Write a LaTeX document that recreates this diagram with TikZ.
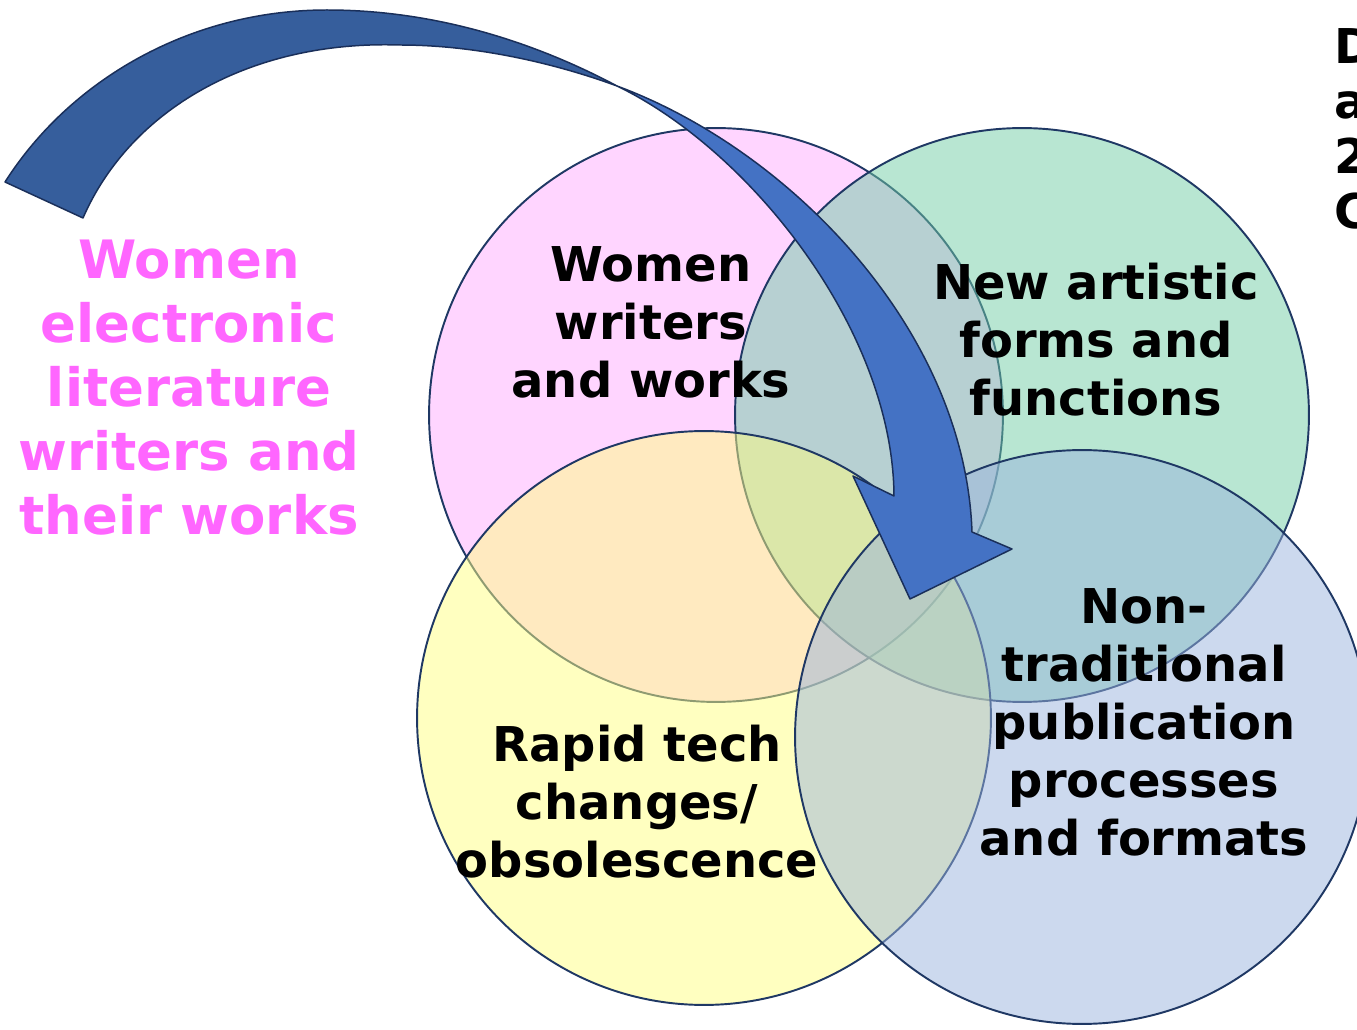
\documentclass[tikz,border=0pt]{standalone}
\usepackage{fontspec}
\setmainfont{DejaVu Sans}
\usepackage{xcolor}

\definecolor{pinkset}{HTML}{FFABFF}
\definecolor{greenset}{HTML}{71CDA5}
\definecolor{yellowset}{HTML}{FFFF81}
\definecolor{blueset}{HTML}{99B3DD}
\definecolor{setline}{HTML}{1F3864}
\definecolor{arrowback}{HTML}{365E9C}
\definecolor{arrowfront}{HTML}{4472C4}
\definecolor{arrowline}{HTML}{1A2F5A}
\definecolor{pinktext}{HTML}{FF66FF}

\begin{document}
\begin{tikzpicture}[x=0.02cm,y=-0.02cm,
  venn/.style={draw=setline, line width=1.1pt, fill opacity=0.5},
  blockarrow/.style={draw=arrowline, line width=0.85pt, line join=round},
  setlabel/.style={inner sep=0pt, align=center, font=\bfseries\fontsize{27.3}{33}\selectfont},
  sidelabel/.style={inner sep=0pt, align=center, text=pinktext, font=\bfseries\fontsize{30.1}{36.4}\selectfont}]
  \useasboundingbox (0,0) rectangle (1357,1030);

  % Four overlapping sets
  \filldraw[venn, fill=pinkset] (716,415) circle[radius=5.74cm];
  \filldraw[venn, fill=greenset] (1022,415) circle[radius=5.74cm];
  \filldraw[venn, fill=yellowset] (704,718) circle[radius=5.74cm];
  \filldraw[venn, fill=blueset] (1082,737) circle[radius=5.74cm];

  % Curved block arrow
  \coordinate (tailout) at (5,182);
  \coordinate (tailin) at (83,218);
  \coordinate (twist) at (617,86);
  \coordinate (shaftr) at (972,532);
  \coordinate (wingr) at (1012,549);
  \coordinate (tip) at (910,599);
  \coordinate (wingl) at (853,476);
  \coordinate (shaftl) at (894,496);
  \filldraw[blockarrow, fill=arrowback] (tailout) .. controls (70,80) and (190,10) .. (327,10)
    .. controls (440,10) and (540,45) .. (twist)
    .. controls (560,65) and (480,45) .. (400,45)
    .. controls (250,40) and (130,110) .. (tailin) -- cycle;
  \filldraw[blockarrow, fill=arrowfront] (twist) .. controls (790,150) and (965,330) .. (shaftr)
    -- (wingr) -- (tip) -- (wingl) -- (shaftl)
    .. controls (893,330) and (750,150) .. (twist) -- cycle;

  % Labels
  \node[sidelabel] (women) at (189,388) {Women\\electronic\\literature\\writers and\\their works};
  \node[setlabel] (writers) at (651,322) {Women\\writers\\and works};
  \node[setlabel] (artistic) at (1096,340) {New artistic\\forms and\\functions};
  \node[setlabel] (publication) at (1144,722) {Non-\\traditional\\publication\\processes\\and formats};
  \node[setlabel] (rapid) at (637,802) {Rapid tech\\changes/\\obsolescence};
  \node[setlabel, align=left, anchor=north west, font=\bfseries\fontsize{27.3}{31.3}\selectfont] (corner) at (1334,28) {D\\a\\2\\C};
\end{tikzpicture}
\end{document}
